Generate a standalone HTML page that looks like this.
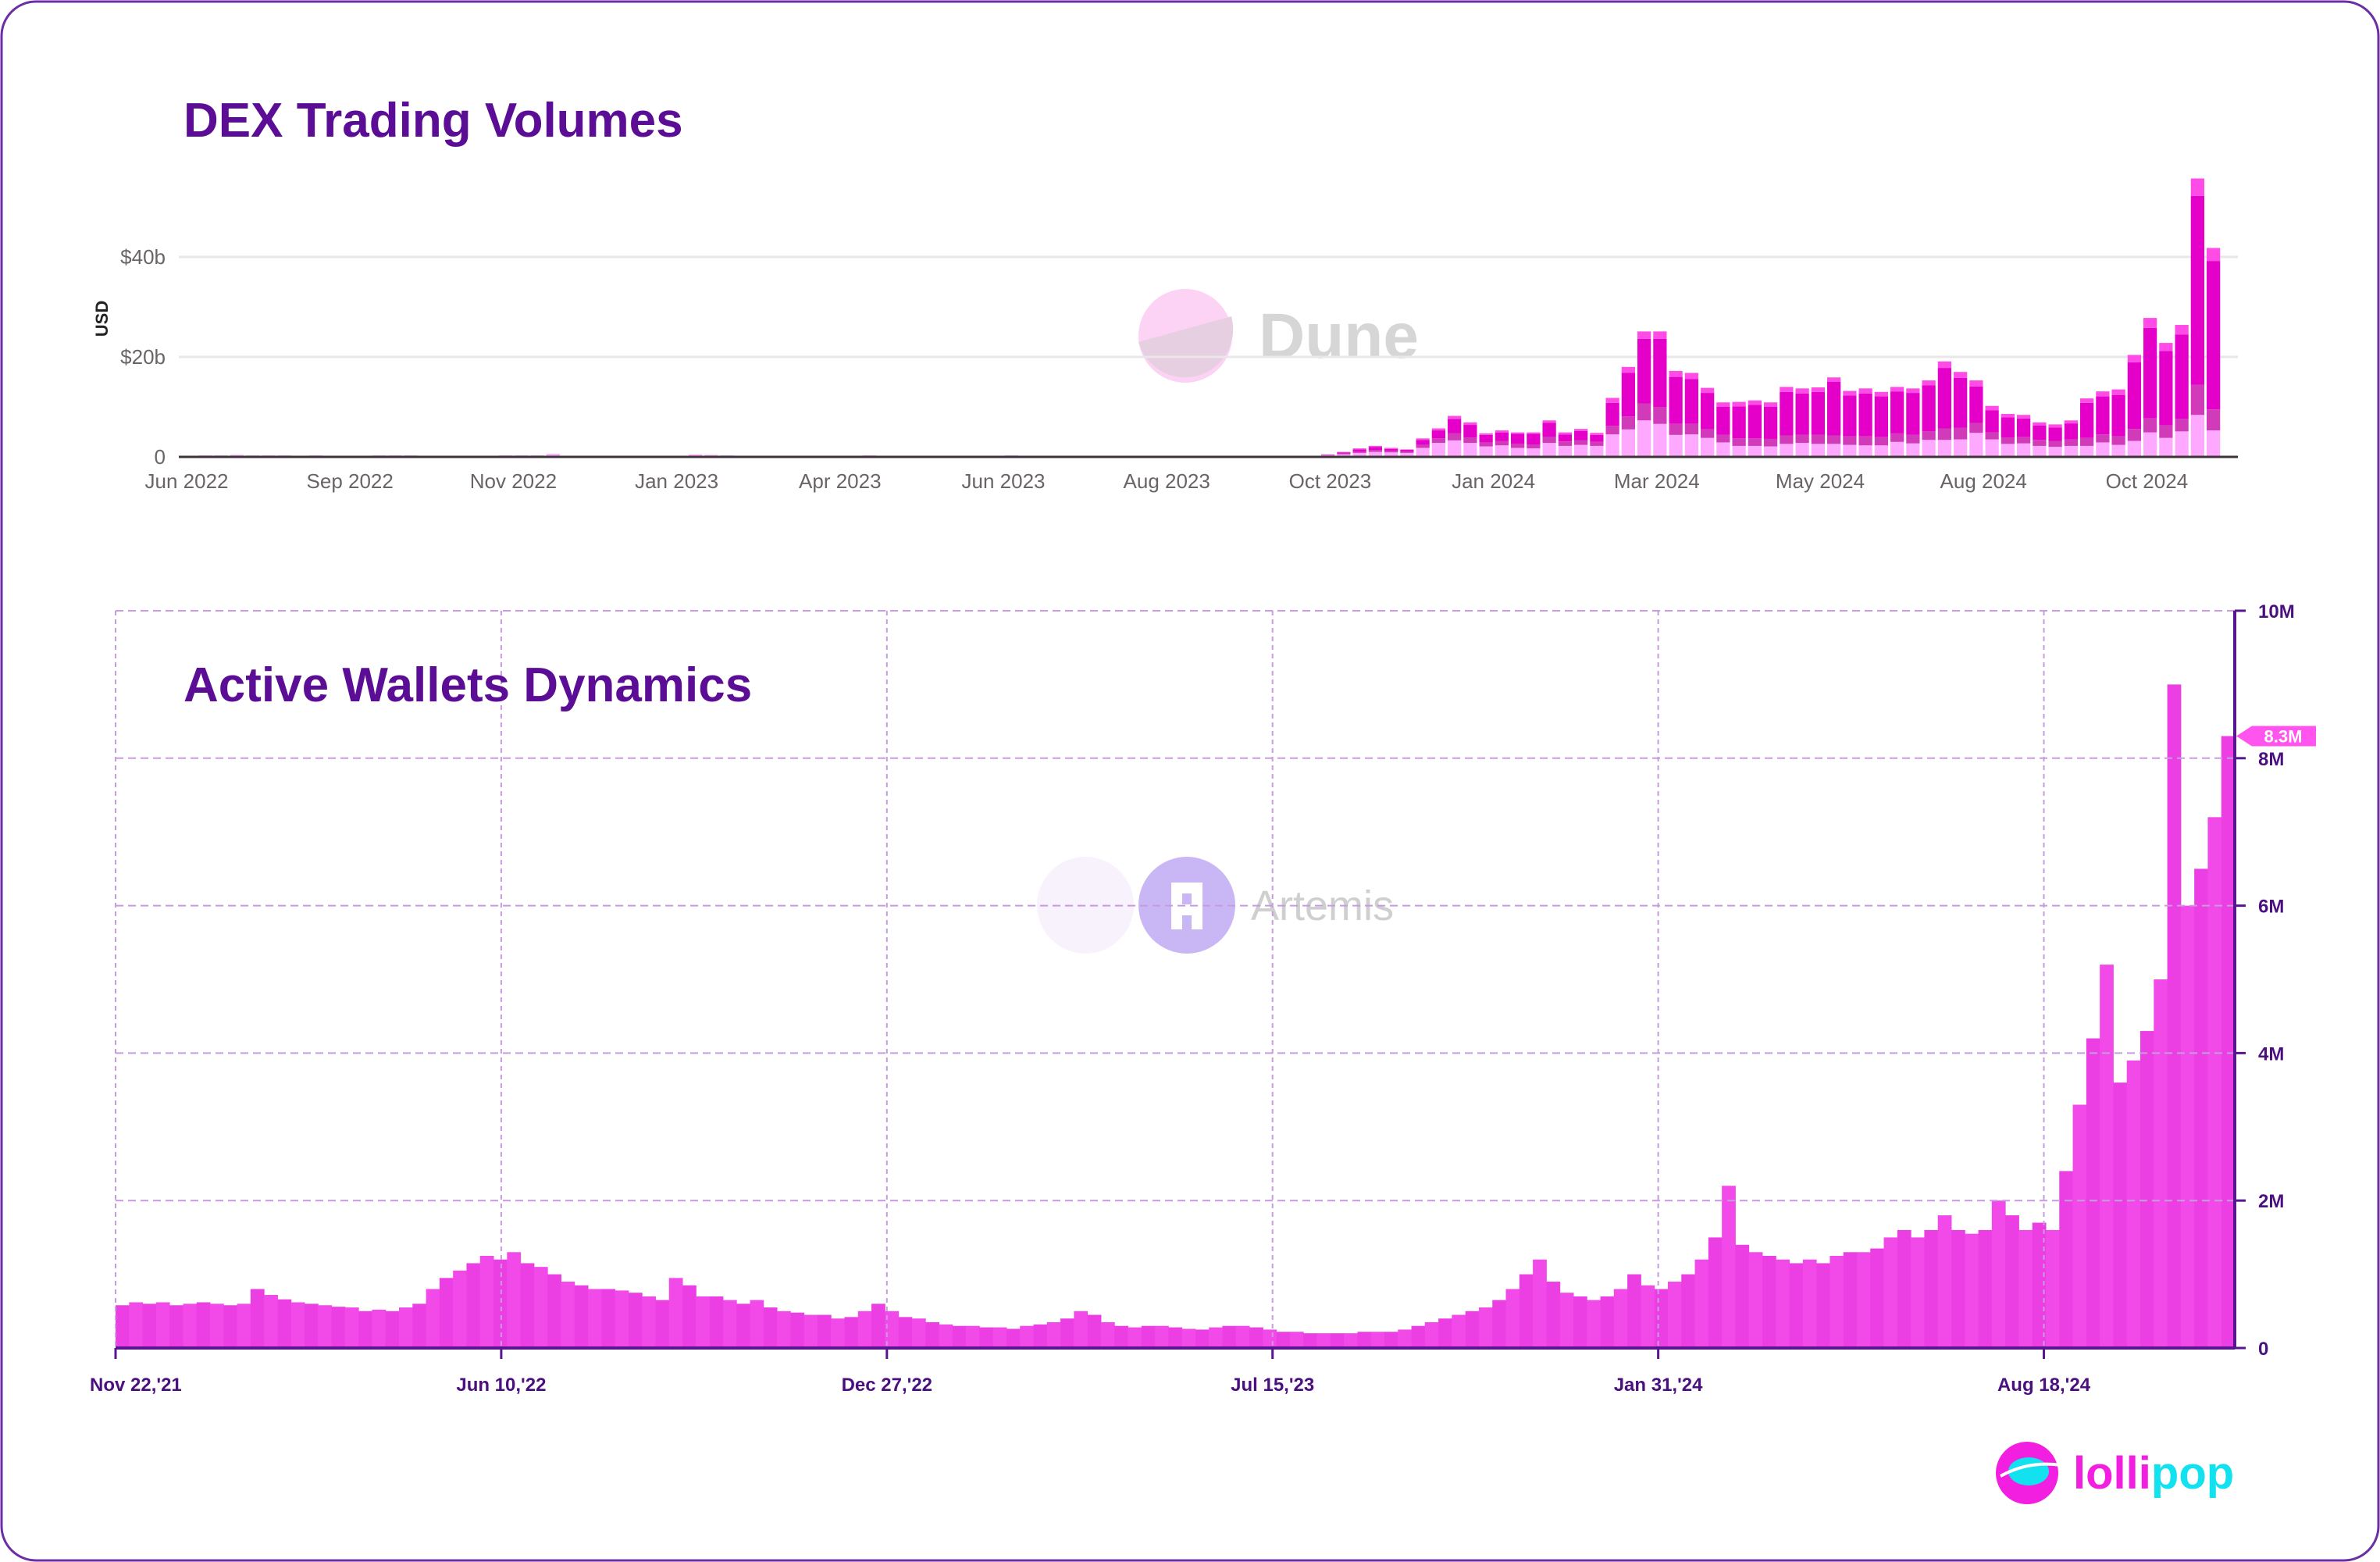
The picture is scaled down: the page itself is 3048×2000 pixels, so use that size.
<!DOCTYPE html>
<html><head><meta charset="utf-8"><style>
html,body{margin:0;padding:0;background:#fff;}
svg{display:block;font-family:"Liberation Sans",sans-serif;}
</style></head><body>
<svg id="chart" width="3048" height="2000" viewBox="0 0 3048 2000">
<rect x="2" y="2" width="3044" height="1996" rx="44" fill="#fff" stroke="#6b2fa3" stroke-width="3"/>
<text x="235" y="175" font-size="62" fill="#5b0d95" font-weight="bold">DEX Trading Volumes</text>
<g id="dune-wm">
<circle cx="1518" cy="430" r="60" fill="#fcd2f5"/>
<path d="M1458 438 L1577 405 A60 60 0 0 1 1458 438 Z" fill="#e6cfe0"/>
<text x="1612" y="458" font-size="82" font-weight="bold" fill="#d6d6d6">Dune</text>
</g>
<g id="topChart"></g>
<g id="artemis-wm">
<circle cx="1390" cy="1159" r="62" fill="#f8f2fd"/>
<circle cx="1520" cy="1159" r="62" fill="#c9b6f4"/>
<path d="M1500 1130 h40 v60 h-14 v-18 h-12 v18 h-14 Z M1514 1144 v14 h12 v-14 Z" fill="#fff"/>
<text x="1602" y="1178" font-size="54" fill="#cfcfcf">Artemis</text>
</g>
<g id="bottomChart"></g>
<text x="235" y="898" font-size="62" fill="#5b0d95" font-weight="bold">Active Wallets Dynamics</text>
<g>
<circle cx="2596" cy="1886" r="40" fill="#f21ee0"/>
<ellipse cx="2598" cy="1884" rx="26" ry="18" fill="#12e2f0"/>
<path d="M2562 1890 Q2598 1870 2640 1876" stroke="#fff" stroke-width="4" fill="none"/>
<text x="2655" y="1906" font-size="58" font-weight="bold" fill="#f21ee0">lolli<tspan fill="#12e2f0">pop</tspan></text>
</g>
</svg>
<script>
// ---------- Top chart data (weekly, $b) ----------
const topStart = ['Jun 2022','Sep 2022','Nov 2022','Jan 2023','Apr 2023','Jun 2023','Aug 2023','Oct 2023','Jan 2024','Mar 2024','May 2024','Aug 2024','Oct 2024'];
const topYTicks = [0,20,40];
const topYTickLabels = ['0','$20b','$40b'];
const earlyLight = [0.2,0.3,0.3,0.4,0.3,0.3,0.3,0.2,0.3,0.2,0.2,0.2,0.3,0.3,0.3,0.2,0.2,0.2,0.2,0.2,0.3,0.3,0.3,0.6,0.2,0.2,0.2,0.1,0.1,0.1,0.1,0.1,0.5,0.4,0.3,0.2,0.2,0.2,0.2,0.2,0.2,0.1,0.2,0.3,0.1,0.1,0.1,0.2,0.2,0.2,0.2,0.2,0.3,0.2,0.2,0.1,0.1,0.1,0.1,0.1,0.1,0.1,0.1,0.1,0.1,0.1,0.1,0.1,0.1,0.1,0.1,0.2];
const lateLight = [.3,.5,.8,1.0,.9,.8,1.8,2.8,3.3,2.8,2.1,2.3,1.8,1.7,2.8,2.2,2.4,2.2,4.5,5.5,7.3,6.6,4.4,4.5,3.8,2.9,2.2,2.2,2.1,2.6,2.8,2.6,2.6,2.4,2.3,2.3,3.0,2.7,3.4,3.4,3.5,4.8,3.5,2.6,2.7,2.2,2.0,2.2,2.2,2.9,2.4,3.2,4.9,3.8,5.1,8.4,5.3];
const lateMid = [.1,.2,.3,.4,.3,.3,.6,.9,1.4,1.1,.8,.9,.8,.8,1.2,.9,.9,.8,1.7,2.6,3.4,3.4,2.2,2.1,1.7,1.5,1.5,1.5,1.5,1.7,1.6,1.8,1.7,1.7,1.8,1.7,1.7,1.7,1.7,2.3,2.3,2.0,1.4,1.3,1.3,1.2,1.2,1.3,1.6,1.6,1.7,2.4,2.8,2.5,2.5,6.0,4.2];
const lateMain = [0,.2,.4,.6,.4,.3,1.0,1.6,2.9,2.5,1.5,1.7,2.0,2.1,2.8,1.4,1.9,1.4,4.6,8.7,12.9,13.6,9.4,9.0,7.3,5.6,6.4,6.7,6.4,8.7,8.3,8.6,10.7,8.2,8.6,8.1,8.4,8.4,9.2,12.1,10.0,7.3,4.4,4.0,3.7,2.9,2.7,3.2,7.0,7.6,8.3,13.3,18.1,14.9,16.9,37.8,29.7];
const lateTop = [.1,.1,.2,.2,.2,.1,.3,.4,.6,.5,.3,.4,.3,.3,.5,.4,.4,.4,1.0,1.2,1.5,1.5,1.2,1.2,1.0,.9,.9,.9,.9,1.0,1.0,.9,.9,.9,1.0,.9,.9,.9,1.0,1.3,1.2,1.2,.9,.7,.7,.6,.6,.6,.9,1.0,1.1,1.5,2.0,1.6,1.9,3.5,2.6];

// ---------- Bottom chart data (weekly avg, millions) ----------
const walletTickLabels = ["Nov 22,'21","Jun 10,'22","Dec 27,'22","Jul 15,'23","Jan 31,'24","Aug 18,'24"];
const walletTickDays = [0,200,400,600,800,1000];
const walletYTicks = [0,2,4,6,8,10];
const walletYLabels = ['0','2M','4M','6M','8M','10M'];
const walletValues = [.58,.62,.6,.62,.58,.6,.62,.6,.58,.6,.8,.72,.66,.62,.6,.58,.56,.55,.5,.52,.5,.55,.6,.8,.95,1.05,1.15,1.25,1.2,1.3,1.15,1.1,1.0,.9,.85,.8,.8,.78,.75,.7,.65,.95,.85,.7,.7,.65,.6,.65,.55,.5,.48,.45,.45,.4,.42,.5,.6,.5,.42,.4,.35,.32,.3,.3,.28,.28,.26,.3,.32,.35,.4,.5,.45,.35,.3,.28,.3,.3,.28,.26,.25,.28,.3,.3,.28,.25,.22,.22,.2,.2,.2,.2,.22,.22,.22,.25,.3,.35,.4,.45,.5,.55,.65,.8,1.0,1.2,.9,.75,.7,.65,.7,.8,1.0,.85,.8,.9,1.0,1.2,1.5,2.2,1.4,1.3,1.25,1.2,1.15,1.2,1.15,1.25,1.3,1.3,1.35,1.5,1.6,1.5,1.6,1.8,1.6,1.55,1.6,2.0,1.8,1.6,1.7,1.6,2.4,3.3,4.2,5.2,3.6,3.9,4.3,5.0,9.0,6.0,6.5,7.2,8.3];
const walletLast = 8.3;

const NS='http://www.w3.org/2000/svg';
function mk(tag, attrs, parent){const e=document.createElementNS(NS,tag);for(const k in attrs)e.setAttribute(k,attrs[k]);parent.appendChild(e);return e;}

// ---- top chart ----
const topG = document.getElementById('topChart');
const tX0=233, tStep=20.25, tBase=585, tPer=6.4;
const tx = i => tX0 + i*tStep;
const ty = v => tBase - v*tPer;
topYTicks.forEach((v,k)=>{
  if(v>0){const g=mk('line',{x1:229,x2:2866,y1:ty(v),y2:ty(v),stroke:'#ebe6ea','stroke-width':3},topG);
  
  }
  const t=mk('text',{x:212,y:ty(v)+9,'text-anchor':'end','font-size':26,fill:'#6a6468'},topG);
  t.textContent=topYTickLabels[k];
  
  
});
const usd=mk('text',{x:138,y:408,'text-anchor':'middle','font-size':22,'font-weight':'bold',fill:'#222',transform:'rotate(-90 138 408)'},topG);
usd.textContent='USD';


const allLight = earlyLight.concat(lateLight);
const nEarly = earlyLight.length;
const colors = ['#ffa8ff','#d13ab9','#e400c8','#ff4ce6'];
for(let i=0;i<allLight.length;i++){
  const vals = i<nEarly ? [earlyLight[i],0,0,0] : [lateLight[i-nEarly],lateMid[i-nEarly],lateMain[i-nEarly],lateTop[i-nEarly]];
  let acc=0;
  vals.forEach((v,s)=>{
    if(v<=0)return;
    const r=mk('rect',{x:tx(i)+1,y:ty(acc+v),width:tStep-3,height:v*tPer,fill:colors[s]},topG);
    
    
    acc+=v;
  });
}
const tAxis=mk('line',{x1:229,x2:2866,y1:tBase,y2:tBase,stroke:'#3c3438','stroke-width':3},topG);


topStart.forEach((lab,k)=>{
  const t=mk('text',{x:239+k*209.2,y:625,'text-anchor':'middle','font-size':26,fill:'#6a6468'},topG);
  t.textContent=lab;
  
  
});

// ---- bottom chart ----
const bot=document.getElementById('bottomChart');
const bX0=148, bX1=2862, bDays=1099, bBase=1726, bTop=782;
const bx = d => bX0 + d*(bX1-bX0)/bDays;
const by = v => bBase - v*(bBase-bTop)/10;
const weekW = bx(7)-bx(0);
walletValues.forEach((v,i)=>{
  const r=mk('rect',{x:bx(i*7),y:by(v),width:weekW+0.5,height:bBase-by(v),fill:i%2?'#f24ae9':'#ec3fe3'},bot);
  
  
});
walletYTicks.forEach((v,k)=>{
  if(v>0){const g=mk('line',{x1:bX0,x2:bX1,y1:by(v),y2:by(v),stroke:'#c79be0','stroke-width':2,'stroke-dasharray':'10 6'},bot);
  
  }
  const tk=mk('line',{x1:bX1,x2:bX1+14,y1:by(v),y2:by(v),stroke:'#5a1690','stroke-width':3},bot);
  
  
  const t=mk('text',{x:bX1+30,y:by(v)+9,'font-size':24,'font-weight':'bold',fill:'#4a1080'},bot);
  t.textContent=walletYLabels[k];
  
  
});
walletTickDays.forEach((d,k)=>{
  const x=bx(d);
  const g=mk('line',{x1:x,x2:x,y1:bTop,y2:bBase,stroke:'#c79be0','stroke-width':2,'stroke-dasharray':'6 5'},bot);
  
  
  const tk=mk('line',{x1:x,x2:x,y1:bBase,y2:bBase+14,stroke:'#5a1690','stroke-width':3},bot);
  
  
  const first = k===0;
  const t=mk('text',{x:first?x-33:x,y:1781,'text-anchor':first?'start':'middle','font-size':24,'font-weight':'bold',fill:'#4a1080'},bot);
  t.textContent=walletTickLabels[k];
  
  
});
const xa=mk('line',{x1:bX0,x2:bX1,y1:bBase,y2:bBase,stroke:'#5a1690','stroke-width':4},bot);


const ya=mk('line',{x1:bX1,x2:bX1,y1:bTop,y2:bBase,stroke:'#5a1690','stroke-width':4},bot);


const ly=by(walletLast);
const tag=mk('path',{d:`M${bX1+2} ${ly} L${bX1+22} ${ly-13} H${bX1+104} V${ly+13} H${bX1+22} Z`,fill:'#ff55ee'},bot);


const tt=mk('text',{x:bX1+62,y:ly+8,'text-anchor':'middle','font-size':22,'font-weight':'bold',fill:'#fff'},bot);
tt.textContent=walletLast+'M';


</script>
</body></html>
